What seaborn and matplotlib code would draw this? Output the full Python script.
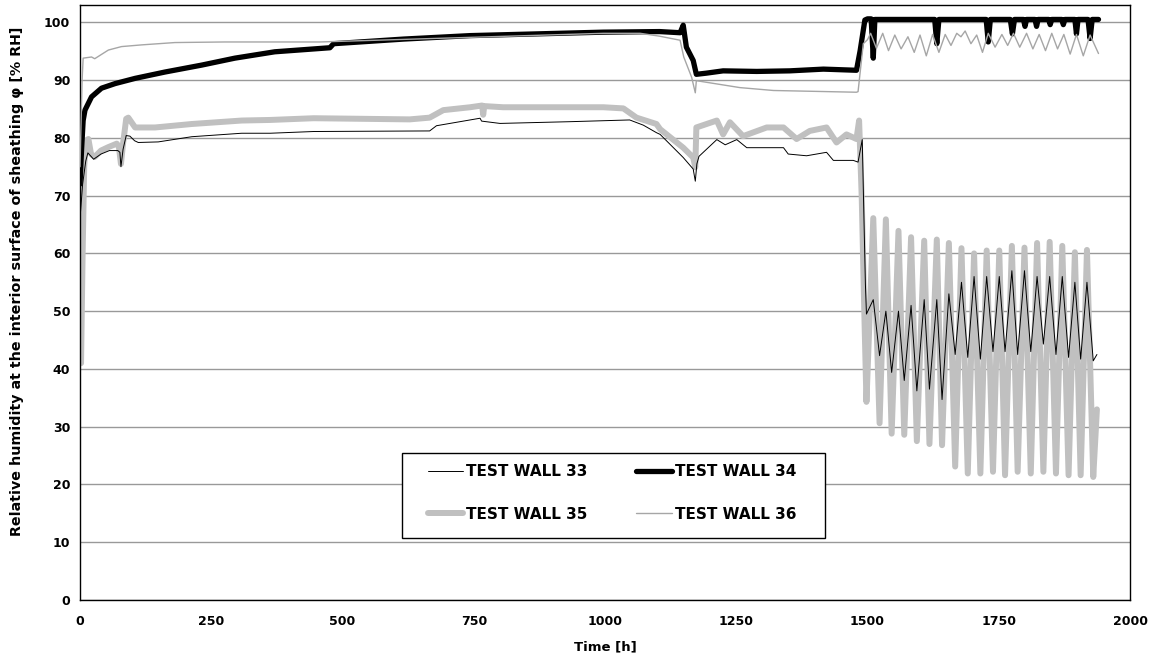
import matplotlib
matplotlib.use("Agg")
import matplotlib.pyplot as plt
from matplotlib.patches import Rectangle
import seaborn as sns
import pandas as pd

# ---------------- data ----------------
t33 = [0, 5, 11, 15, 26, 40, 56, 72, 76, 78, 82, 88, 95, 104, 111, 149, 213, 308, 362, 445,
       666, 679, 762, 765, 800, 933, 1047, 1073, 1098, 1105, 1149, 1168, 1172, 1175, 1179,
       1213, 1229, 1251, 1270, 1340, 1349, 1384, 1422, 1435, 1473, 1482, 1490, 1493, 1496, 1498,
       1511, 1523, 1535, 1546, 1559, 1570, 1583, 1594, 1608, 1618, 1632, 1642, 1655, 1667,
       1679, 1691, 1703, 1715, 1727, 1739, 1751, 1762, 1775, 1786, 1799, 1811, 1823, 1835,
       1847, 1859, 1871, 1883, 1895, 1906, 1918, 1930, 1937]
v33 = [66, 72, 76, 77.4, 76.3, 77.2, 77.8, 77.8, 77.5, 75.0, 78, 80.4, 80.3, 79.5, 79.2, 79.3,
       80.2, 80.8, 80.8, 81.1, 81.2, 82.1, 83.4, 82.9, 82.5, 82.8, 83.1, 82.2, 80.9, 80.6,
       76.6, 74.6, 72.5, 75.5, 76.8, 79.7, 78.8, 79.7, 78.3, 78.3, 77.2, 76.9, 77.5, 76.1,
       76.1, 75.8, 79.7, 67, 54.7, 49.5,
       52, 42.3, 50, 39.4, 50, 38, 51, 36.2, 52, 36.5, 52, 34.7, 53, 42.5,
       55, 42, 56, 41.7, 56, 43, 56, 43, 57, 42.5, 57, 43, 56, 44.3,
       56, 42.5, 56, 42, 55, 41.7, 55, 41.4, 42.5]

t34 = [0, 3, 6, 9.5, 22, 41, 67, 105, 162, 232, 295, 371, 476, 483, 616, 743, 870, 997, 1104,
       1143, 1149, 1155, 1168, 1174, 1193, 1225, 1289, 1352, 1416, 1479, 1486, 1495,
       1500, 1507, 1511, 1514, 1628, 1632, 1636, 1726, 1730, 1734, 1772, 1776, 1780, 1797,
       1800, 1803, 1819, 1822, 1825, 1845, 1848, 1851, 1870, 1873, 1876, 1895, 1898, 1901,
       1920, 1924, 1928, 1940]
v34 = [72, 78, 83, 84.8, 87.1, 88.6, 89.4, 90.3, 91.4, 92.6, 93.8, 94.9, 95.6, 96.3, 97.1,
       97.7, 98.0, 98.3, 98.4, 98.2, 99.5, 95.7, 93.4, 91.0, 91.2, 91.6, 91.5, 91.6, 91.9,
       91.7, 95.1, 100.4,
       100.6, 100.6, 93.8, 100.5, 100.5, 96.3, 100.5, 100.5, 96.6, 100.5, 100.5, 98.0, 100.5,
       100.5, 99.3, 100.5, 100.5, 99.3, 100.5, 100.5, 99.6, 100.5, 100.5, 99.6, 100.5,
       100.5, 98.0, 100.5, 100.5, 97.2, 100.5, 100.5]

t35 = [0, 2, 5, 8, 11, 16, 21, 28, 40, 54, 70, 74, 78, 82, 88, 92, 105, 143, 213, 308, 362,
       445, 628, 666, 692, 743, 766, 768, 770, 806, 997, 1035, 1060, 1098, 1105, 1149, 1168,
       1172, 1174, 1213, 1225, 1238, 1263, 1308, 1340, 1365, 1390, 1422, 1441, 1460, 1479,
       1484, 1489, 1491, 1494, 1498,
       1511, 1523, 1535, 1546, 1559, 1570, 1583, 1594, 1608, 1618, 1632, 1642, 1655, 1667,
       1679, 1691, 1703, 1715, 1727, 1739, 1751, 1762, 1775, 1786, 1799, 1811, 1823, 1835,
       1847, 1859, 1871, 1883, 1895, 1906, 1918, 1930, 1937]
v35 = [45, 41, 60, 75, 79.5, 79.8, 77.2, 76.7, 77.8, 78.4, 79, 78.5, 75.5, 79, 83.3, 83.5,
       81.8, 81.8, 82.4, 83, 83.1, 83.4, 83.2, 83.5, 84.8, 85.3, 85.6, 84, 85.5, 85.3, 85.3,
       85.1, 83.5, 82.4, 81.5, 78.3, 76.6, 74.9, 81.8, 83, 80.6, 82.7, 80.3, 81.8, 81.8,
       79.8, 81.2, 81.8, 79.2, 80.6, 79.8, 83, 69.7, 61.6, 49.5, 34.3,
       66.1, 30.6, 65.9, 28.8, 63.9, 28.6, 62.8, 27.5, 62.2, 27.0, 62.4, 26.8, 61.8, 23.1,
       60.9, 21.9, 60.0, 21.9, 60.5, 22.2, 60.5, 21.6, 61.3, 22.2, 61.0, 21.9, 61.8, 22.2,
       62.0, 21.9, 61.3, 21.6, 60.2, 21.6, 60.6, 21.3, 33]

t36 = [0, 4, 6, 22, 28, 54, 79, 118, 181, 276, 457, 743, 997, 1067, 1104, 1143, 1150, 1165,
       1172, 1174, 1257, 1321, 1479, 1482, 1492, 1500,
       1506, 1517, 1529, 1540, 1552, 1564, 1577, 1589, 1600, 1612, 1624, 1636, 1648, 1659,
       1670, 1678, 1686, 1697, 1708, 1719, 1730, 1743, 1756, 1767, 1778, 1790, 1803, 1815,
       1827, 1839, 1851, 1862, 1874, 1886, 1898, 1911, 1924, 1940]
v36 = [75, 90, 93.8, 94.0, 93.7, 95.2, 95.8, 96.1, 96.5, 96.6, 96.6, 97.4, 98.1, 98.1, 97.6,
       96.9, 94.0, 90.5, 87.8, 89.9, 88.7, 88.2, 87.9, 88.0, 96.3, 97.0,
       98.1, 95.5, 98.1, 95.1, 97.8, 95.4, 97.5, 94.8, 97.8, 94.2, 97.9, 94.8, 97.9, 96.0,
       98.1, 97.5, 98.5, 96.3, 97.8, 94.8, 98.1, 95.7, 97.9, 96.0, 98.1, 95.7, 98.1, 95.4,
       97.9, 95.1, 98.1, 95.4, 97.9, 94.5, 97.9, 94.2, 97.8, 94.6]

labels = ["TEST WALL 33", "TEST WALL 34", "TEST WALL 35", "TEST WALL 36"]
x_ticks = [0, 250, 500, 750, 1000, 1250, 1500, 1750, 2000]
y_ticks = [0, 10, 20, 30, 40, 50, 60, 70, 80, 90, 100]

# ---------------- figure ----------------
sns.set_theme(style="white")
plt.rcParams["font.family"] = ["DejaVu Sans"]
plt.rcParams["font.weight"] = "bold"
plt.rcParams["text.color"] = "black"
plt.rcParams["axes.labelcolor"] = "black"
plt.rcParams["xtick.color"] = "black"
plt.rcParams["ytick.color"] = "black"

fig = plt.figure(figsize=(11.53, 6.59), dpi=100)
ax = fig.add_axes([80 / 1153, 1 - 600 / 659, 1050 / 1153, 595 / 659])

series = {
    labels[2]: (t35, v35, "#c0c0c0", 4.3, 2),
    labels[1]: (t34, v34, "#000000", 3.8, 3),
    labels[3]: (t36, v36, "#a6a6a6", 1.0, 4),
    labels[0]: (t33, v33, "#000000", 0.7, 5),
}
handles = {}
for name, (tt, vv, col, lw, z) in series.items():
    df = pd.DataFrame({"t": tt, "v": vv})
    sns.lineplot(data=df, x="t", y="v", ax=ax, color=col, linewidth=lw,
                 sort=False, estimator=None, zorder=z, label=name)
    ln = ax.get_lines()[-1]
    ln.set_solid_joinstyle("round")
    ln.set_solid_capstyle("round")
    handles[name] = ln

ax.set_xlim(0, 2000)
ax.set_ylim(0, 103)
ax.set_xticks(x_ticks)
ax.set_yticks(y_ticks)
ax.set_xticklabels([str(x) for x in x_ticks], fontsize=9, fontweight="bold")
ax.set_yticklabels([str(y) for y in y_ticks], fontsize=9, fontweight="bold")
ax.yaxis.grid(True, color="#999999", linewidth=1.0, zorder=0)
ax.xaxis.grid(False)
ax.set_axisbelow(True)
for s in ax.spines.values():
    s.set_color("black")
    s.set_linewidth(1.0)
ax.tick_params(axis="both", direction="out", length=3, width=1, color="black")
ax.tick_params(axis="x", pad=8)
ax.tick_params(axis="y", pad=4)

ax.set_xlabel("Time [h]", fontsize=9.5, fontweight="bold", labelpad=9)
ax.set_ylabel("Relative humidity at the interior surface of sheathing \u03c6 [% RH]",
              fontsize=10.3, fontweight="bold")
ax.yaxis.set_label_coords(-0.053, 0.536)

# legend frame drawn as a box, entries placed inside it
box = Rectangle((0.3067, 0.1042), 0.4029, 0.1429, transform=ax.transAxes,
                facecolor="white", edgecolor="black", linewidth=1.0, zorder=10)
ax.add_patch(box)
order = [labels[0], labels[2], labels[1], labels[3]]
leg = ax.legend([handles[n] for n in order], order, ncol=2, loc="upper left",
                bbox_to_anchor=(0.3314, 0.228), frameon=False,
                handlelength=2.3, handletextpad=0.2, borderaxespad=0, borderpad=0,
                prop={"size": 11, "weight": "bold"},
                labelspacing=1.8, columnspacing=3.2)
leg.set_zorder(11)

fig.savefig("out.png", dpi=100)
